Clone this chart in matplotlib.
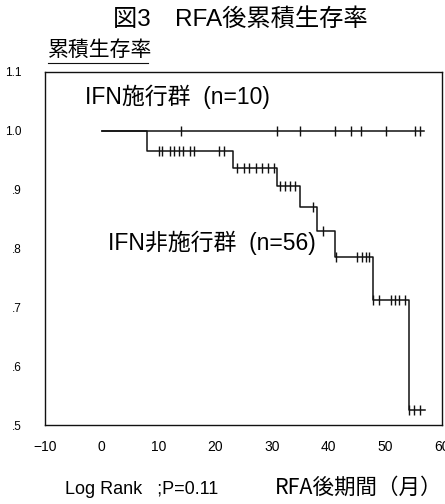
import matplotlib
matplotlib.use("Agg")
import matplotlib.pyplot as plt
import numpy as np
from matplotlib.lines import Line2D

plt.rcParams['font.family'] = ['Liberation Sans', 'Noto Sans CJK JP', 'DejaVu Sans']

# ---- data ----
ifn_times = [0.0, 56.9]
ifn_surv = [1.0, 1.0]
ifn_censor = [13.9, 30.9, 34.9, 41.2, 43.9, 45.8, 50.1, 55.3, 56.1]

non_event_times = [8.0, 23.1, 30.9, 35.0, 38.0, 41.2, 47.8, 54.1]
non_event_surv = [0.966, 0.936, 0.906, 0.870, 0.830, 0.786, 0.712, 0.526]
non_end_time = 57.0
non_censor = [10.1, 10.7, 12.1, 12.8, 13.6, 14.4, 15.6, 16.3, 20.7, 21.5,
              23.8, 25.0, 26.0, 27.2, 28.2, 29.3, 30.3,
              31.4, 32.3, 33.2, 34.1,
              37.3,
              39.1,
              41.3, 45.1, 45.9, 46.6, 47.1,
              47.9, 48.9, 51.0, 51.7, 52.5, 53.5,
              54.2, 55.1, 56.1]

x_ticks = [-10, 0, 10, 20, 30, 40, 50, 60]
y_ticks = [0.5, 0.6, 0.7, 0.8, 0.9, 1.0, 1.1]
y_ticklabels = ['.5', '.6', '.7', '.8', '.9', '1.0', '1.1']

title = '図3\u3000RFA後累積生存率'
ylabel = '累積生存率'
xlabel = 'RFA後期間（月）'
stat_text = 'Log Rank   ;P=0.11'
label_ifn = 'IFN施行群  (n=10)'
label_non = 'IFN非施行群  (n=56)'

# ---- figure ----
fig = plt.figure(figsize=(4.45, 5.04), dpi=100)
ax = fig.add_axes([45/445, 1-425/504, 397/445, 353/504])

lc = '#111111'
# IFN group
ax.step(ifn_times, ifn_surv, where='post', color=lc, lw=1.1)
ax.plot(ifn_censor, [ifn_surv[0]]*len(ifn_censor), ls='none', marker='|',
        ms=7, mew=1.0, color=lc)

# non-IFN group
t_all = [0.0] + non_event_times + [non_end_time]
s_all = [1.0] + non_event_surv + [non_event_surv[-1]]
ax.step(t_all, s_all, where='post', color=lc, lw=1.1)
idx = np.searchsorted(np.array(non_event_times), np.array(non_censor), side='right')
lev = np.array([1.0] + non_event_surv)[idx]
ax.plot(non_censor, lev, ls='none', marker='|', ms=7, mew=1.0, color=lc)

ax.set_xlim(-10, 60)
ax.set_ylim(0.5, 1.1)
ax.set_xticks(x_ticks)
ax.set_xticklabels([str(v).replace('-', '\u2212') for v in x_ticks], fontsize=10)
ax.set_yticks(y_ticks)
ax.set_yticklabels(y_ticklabels, fontsize=8.5)
ax.tick_params(axis='both', length=0)
ax.tick_params(axis='x', pad=11)
ax.tick_params(axis='y', pad=17)
for sp in ax.spines.values():
    sp.set_linewidth(1.0)
    sp.set_color(lc)

cjk_font = ['Noto Sans CJK JP', 'DejaVu Sans']
ax.text(-2.9, 1.0575, label_ifn, fontsize=16.5, ha='left', va='center')
ax.text(1.1, 0.809, label_non, fontsize=16.5, ha='left', va='center')

fig.text(240/445, 1-19/504, title, fontsize=17.5, ha='center', va='center')
fig.text(48/445, 1-50/504, ylabel, fontsize=15, ha='left', va='center', family=cjk_font)
fig.add_artist(Line2D([48/445, 148/445], [1-63/504, 1-63/504], color=lc, lw=0.8))
fig.text(65/445, 1-489/504, stat_text, fontsize=13, ha='left', va='center')
fig.text(442/445, 1-488/504, xlabel, fontsize=15.5, ha='right', va='center', family=cjk_font)

fig.savefig('out.png', dpi=100)
